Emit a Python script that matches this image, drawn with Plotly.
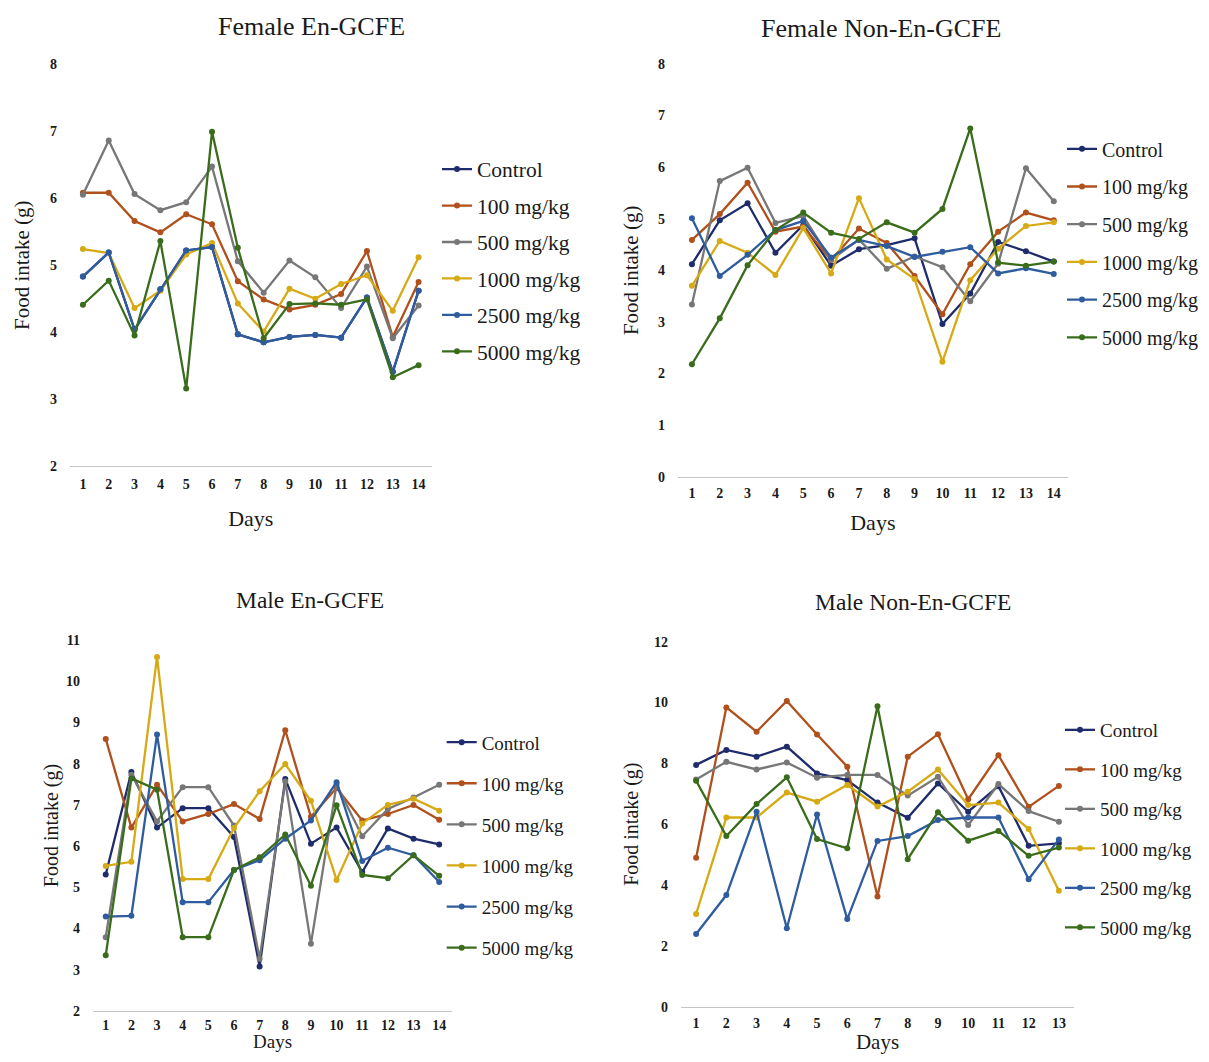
import plotly.graph_objects as go

# ---------------- data ----------------
series_names = ["Control", "100 mg/kg", "500 mg/kg", "1000 mg/kg", "2500 mg/kg", "5000 mg/kg"]
series_colors = ["#1F2C6B", "#B0501C", "#777777", "#D6AA14", "#2F5C9E", "#3A6D1B"]

days14 = [1, 2, 3, 4, 5, 6, 7, 8, 9, 10, 11, 12, 13, 14]
days13 = [1, 2, 3, 4, 5, 6, 7, 8, 9, 10, 11, 12, 13]

# Female En-GCFE
f_en_control = [4.83, 5.19, 4.04, 4.64, 5.22, 5.27, 3.97, 3.85, 3.93, 3.96, 3.92, 4.52, 3.41, 4.62]
f_en_100 = [6.08, 6.08, 5.66, 5.49, 5.76, 5.61, 4.76, 4.49, 4.34, 4.41, 4.57, 5.21, 3.93, 4.75]
f_en_500 = [6.05, 6.86, 6.06, 5.82, 5.94, 6.47, 5.06, 4.59, 5.07, 4.82, 4.36, 4.98, 3.91, 4.40]
f_en_1000 = [5.24, 5.18, 4.36, 4.62, 5.16, 5.33, 4.43, 4.01, 4.65, 4.50, 4.72, 4.85, 4.32, 5.12]
f_en_2500 = [4.83, 5.19, 4.04, 4.64, 5.22, 5.27, 3.97, 3.85, 3.93, 3.96, 3.92, 4.52, 3.41, 4.62]
f_en_5000 = [4.41, 4.77, 3.95, 5.36, 3.16, 6.99, 5.26, 3.91, 4.42, 4.43, 4.41, 4.49, 3.33, 3.51]

# Female Non-En-GCFE
f_non_control = [4.12, 4.97, 5.30, 4.34, 4.88, 4.09, 4.41, 4.49, 4.62, 2.96, 3.55, 4.55, 4.37, 4.17]
f_non_100 = [4.59, 5.09, 5.70, 4.75, 4.85, 4.20, 4.81, 4.53, 3.89, 3.15, 4.12, 4.75, 5.12, 4.97]
f_non_500 = [3.34, 5.73, 5.99, 4.92, 5.05, 4.20, 4.60, 4.03, 4.27, 4.06, 3.40, 4.13, 5.98, 5.34]
f_non_1000 = [3.70, 4.57, 4.34, 3.91, 4.82, 3.94, 5.40, 4.21, 3.83, 2.23, 3.81, 4.42, 4.86, 4.93]
f_non_2500 = [5.01, 3.89, 4.30, 4.78, 4.96, 4.25, 4.59, 4.47, 4.26, 4.36, 4.45, 3.94, 4.04, 3.93]
f_non_5000 = [2.18, 3.07, 4.10, 4.78, 5.12, 4.73, 4.61, 4.93, 4.73, 5.19, 6.75, 4.15, 4.09, 4.17]

# Male En-GCFE
m_en_control = [5.31, 7.80, 6.45, 6.92, 6.92, 6.22, 3.08, 7.63, 6.06, 6.45, 5.37, 6.43, 6.18, 6.04]
m_en_100 = [8.60, 6.45, 7.49, 6.60, 6.78, 7.02, 6.66, 8.81, 6.71, 7.41, 6.62, 6.78, 7.00, 6.64]
m_en_500 = [3.79, 7.73, 6.60, 7.43, 7.43, 6.50, 3.27, 7.57, 3.63, 7.49, 6.24, 6.90, 7.18, 7.49]
m_en_1000 = [5.52, 5.62, 10.59, 5.20, 5.20, 6.44, 7.33, 7.99, 7.10, 5.18, 6.55, 7.00, 7.15, 6.86]
m_en_2500 = [4.29, 4.31, 8.71, 4.64, 4.64, 5.42, 5.66, 6.18, 6.62, 7.55, 5.64, 5.96, 5.78, 5.13]
m_en_5000 = [3.35, 7.64, 7.37, 3.79, 3.79, 5.42, 5.73, 6.28, 5.04, 6.99, 5.30, 5.22, 5.78, 5.28]

# Male Non-En-GCFE
m_non_control = [7.95, 8.44, 8.22, 8.55, 7.67, 7.45, 6.71, 6.21, 7.34, 6.41, 7.25, 5.29, 5.37]
m_non_100 = [4.90, 9.84, 9.04, 10.05, 8.95, 7.89, 3.62, 8.22, 8.96, 6.82, 8.27, 6.57, 7.26]
m_non_500 = [7.47, 8.05, 7.80, 8.03, 7.53, 7.62, 7.62, 6.94, 7.56, 5.97, 7.32, 6.43, 6.08]
m_non_1000 = [3.05, 6.22, 6.22, 7.04, 6.74, 7.29, 6.58, 7.07, 7.80, 6.63, 6.71, 5.84, 3.81]
m_non_2500 = [2.39, 3.67, 6.41, 2.58, 6.32, 2.88, 5.45, 5.61, 6.14, 6.22, 6.22, 4.19, 5.50]
m_non_5000 = [7.43, 5.61, 6.66, 7.54, 5.51, 5.21, 9.88, 4.85, 6.39, 5.46, 5.78, 4.96, 5.23]

panel_titles = ["Female En-GCFE", "Female Non-En-GCFE", "Male En-GCFE", "Male Non-En-GCFE"]
x_title = "Days"
y_title = "Food intake (g)"

# ---------------- figure ----------------
# page body has an 8px margin; size the figure so the page is exactly the window
OFF = 8
W, H = 1209 - 2 * OFF, 1062 - 2 * OFF
FONT = "Liberation Serif, Times New Roman, serif"


def fx(px):
    return (px - OFF) / W


def fy(py):
    return 1 - (py - OFF) / H


panels = [
    dict(days=days14, data=[f_en_control, f_en_100, f_en_500, f_en_1000, f_en_2500, f_en_5000],
         dom_x=(70, 431.5), dom_y=(64, 466.4), yrange=(2, 8), dtick=1,
         legend_xy=(437, 148.6), leg_font=21.5, leg_gap=5.5, title_xy=(311, 27), title_size=26,
         tick_size=14, ytitle_size=21, ystand=14, xstand=19, xtitle_size=22, xtick_stand=5,
         xtitle_note=None),
    dict(days=days14, data=[f_non_control, f_non_100, f_non_500, f_non_1000, f_non_2500, f_non_5000],
         dom_x=(678, 1067.7), dom_y=(64, 476.7), yrange=(0, 8), dtick=1,
         legend_xy=(1062, 129.3), leg_font=20, leg_gap=8.7, title_xy=(881, 28), title_size=26,
         tick_size=14, ytitle_size=21, ystand=13, xstand=14, xtitle_size=22, xtick_stand=3,
         xtitle_note=None),
    # the bottom-left "Days" sits at the very bottom edge, so it is placed as a paper note
    dict(days=days14, data=[m_en_control, m_en_100, m_en_500, m_en_1000, m_en_2500, m_en_5000],
         dom_x=(92.9, 452), dom_y=(640, 1011), yrange=(2, 11), dtick=1,
         legend_xy=(441.7, 723.3), leg_font=19, leg_gap=13.4, title_xy=(310, 600), title_size=23.5,
         tick_size=14, ytitle_size=20, ystand=1, xstand=12, xtitle_size=19, xtick_stand=1,
         xtitle_note=(272, 1054)),
    dict(days=days13, data=[m_non_control, m_non_100, m_non_500, m_non_1000, m_non_2500, m_non_5000],
         dom_x=(681, 1074), dom_y=(641.7, 1006.7), yrange=(0, 12), dtick=2,
         legend_xy=(1060, 711), leg_font=19, leg_gap=11.8, title_xy=(913, 602), title_size=23.5,
         tick_size=14, ytitle_size=20, ystand=9, xstand=2, xtitle_size=21, xtick_stand=3,
         xtitle_note=None),
]

fig = go.Figure()
layout = dict(
    width=W, height=H,
    margin=dict(l=0, r=0, t=0, b=0, autoexpand=False),
    paper_bgcolor="white", plot_bgcolor="white",
    font=dict(family=FONT, color="black"),
    annotations=[],
)

for i, p in enumerate(panels):
    k = "" if i == 0 else str(i + 1)
    xa, ya = "x" + k, "y" + k
    leg = "legend" + k
    for j, (name, col) in enumerate(zip(series_names, series_colors)):
        fig.add_trace(go.Scatter(
            x=p["days"], y=p["data"][j], name=name,
            mode="lines+markers",
            line=dict(color=col, width=2.3),
            marker=dict(color=col, size=6),
            xaxis=xa, yaxis=ya, legend=leg,
            legendgroup=f"p{i}_{j}",
        ))
    n = len(p["days"])
    xtitle_font = dict(family=FONT, size=p["xtitle_size"], color="#1a1a1a")
    layout["xaxis" + k] = dict(
        domain=[fx(p["dom_x"][0]), fx(p["dom_x"][1])],
        anchor=ya, range=[0.5, n + 0.5],
        tickvals=p["days"], ticktext=[str(d) for d in p["days"]],
        showgrid=False, zeroline=False,
        showline=True, linecolor="#C4C4C4", linewidth=1.3,
        ticks="", ticklen=0, ticklabelstandoff=p["xtick_stand"],
        tickfont=dict(family=FONT, size=p["tick_size"], color="#1a1a1a", weight="bold"),
        fixedrange=True,
    )
    if p["xtitle_note"] is None:
        layout["xaxis" + k]["title"] = dict(text=x_title, font=xtitle_font, standoff=p["xstand"])
    else:
        layout["annotations"].append(dict(
            text=x_title, xref="paper", yref="paper",
            x=fx(p["xtitle_note"][0]), y=fy(p["xtitle_note"][1]),
            xanchor="center", yanchor="bottom", showarrow=False, font=xtitle_font,
        ))
    layout["yaxis" + k] = dict(
        domain=[fy(p["dom_y"][1]), fy(p["dom_y"][0])],
        anchor=xa, range=list(p["yrange"]), dtick=p["dtick"], tick0=0,
        showgrid=False, zeroline=False, showline=False,
        ticks="", ticklen=0, ticklabelstandoff=12,
        tickfont=dict(family=FONT, size=p["tick_size"], color="#1a1a1a", weight="bold"),
        title=dict(text=y_title, font=dict(family=FONT, size=p["ytitle_size"], color="#1a1a1a"),
                   standoff=p["ystand"]),
        fixedrange=True,
    )
    layout[leg] = dict(
        x=fx(p["legend_xy"][0]), y=fy(p["legend_xy"][1]),
        xanchor="left", yanchor="top",
        bgcolor="rgba(0,0,0,0)", borderwidth=0,
        font=dict(family=FONT, size=p["leg_font"], color="#1a1a1a"),
        tracegroupgap=p["leg_gap"], traceorder="grouped",
        itemwidth=30,
    )
    layout["annotations"].append(dict(
        text=panel_titles[i], xref="paper", yref="paper",
        x=fx(p["title_xy"][0]), y=fy(p["title_xy"][1]),
        xanchor="center", yanchor="middle", showarrow=False,
        font=dict(family=FONT, size=p["title_size"], color="#1a1a1a"),
    ))

fig.update_layout(**layout)
fig.write_html("out.html")
